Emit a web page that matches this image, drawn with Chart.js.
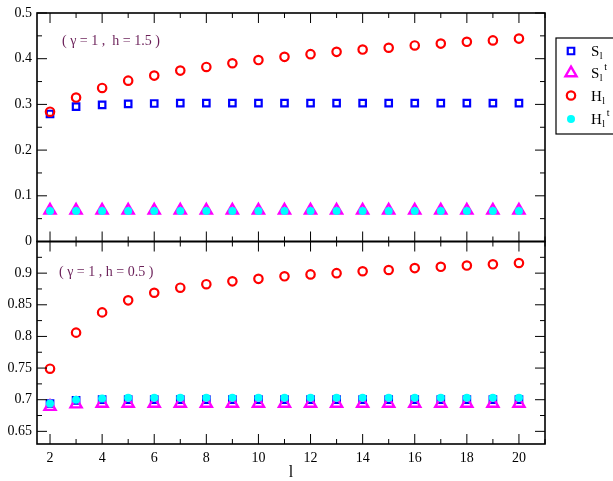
<!DOCTYPE html>
<html>
<head>
<meta charset="utf-8">
<script src="https://cdn.jsdelivr.net/npm/chart.js@4.4.0/dist/chart.umd.min.js"></script>
<style>
  html, body { margin: 0; padding: 0; background: #fff; }
  #wrap { position: relative; width: 613px; height: 481px; overflow: hidden; }
  canvas { position: absolute; left: 0; }
  #topChart { top: 0; }
  #bottomChart { top: 232px; }
</style>
</head>
<body>
<div id="wrap">
  <canvas id="topChart" width="613" height="255"></canvas>
  <canvas id="bottomChart" width="613" height="249"></canvas>
</div>
<script>
/* --------------- Data --------------------- */
const lengths = [2, 3, 4, 5, 6, 7, 8, 9, 10, 11, 12, 13, 14, 15, 16, 17, 18, 19, 20];

// upper panel (gamma = 1, h = 1.5)
const topS  = [0.279, 0.295, 0.299, 0.301, 0.302, 0.303, 0.303, 0.303, 0.303, 0.303, 0.303, 0.303, 0.303, 0.303, 0.303, 0.303, 0.303, 0.303, 0.303];
const topSt = [0.068, 0.068, 0.068, 0.068, 0.068, 0.068, 0.068, 0.068, 0.068, 0.068, 0.068, 0.068, 0.068, 0.068, 0.068, 0.068, 0.068, 0.068, 0.068];
const topH  = [0.284, 0.315, 0.336, 0.352, 0.363, 0.374, 0.382, 0.390, 0.397, 0.404, 0.410, 0.415, 0.420, 0.424, 0.429, 0.433, 0.437, 0.440, 0.444];
const topHt = [0.067, 0.067, 0.067, 0.067, 0.067, 0.067, 0.067, 0.067, 0.067, 0.067, 0.067, 0.067, 0.067, 0.067, 0.067, 0.067, 0.067, 0.067, 0.067];

// lower panel (gamma = 1, h = 0.5)
const botS  = [0.694, 0.699, 0.700, 0.700, 0.700, 0.700, 0.700, 0.700, 0.700, 0.700, 0.700, 0.700, 0.700, 0.700, 0.700, 0.700, 0.700, 0.700, 0.700];
const botSt = [0.689, 0.693, 0.694, 0.694, 0.694, 0.694, 0.694, 0.694, 0.694, 0.694, 0.694, 0.694, 0.694, 0.694, 0.694, 0.694, 0.694, 0.694, 0.694];
const botH  = [0.749, 0.806, 0.838, 0.857, 0.869, 0.877, 0.8825, 0.887, 0.891, 0.895, 0.898, 0.900, 0.903, 0.905, 0.908, 0.910, 0.912, 0.914, 0.916];
const botHt = [0.694, 0.700, 0.702, 0.703, 0.703, 0.703, 0.703, 0.703, 0.703, 0.703, 0.703, 0.703, 0.703, 0.703, 0.703, 0.703, 0.703, 0.703, 0.703];

/* --------------- Ticks --------------------- */
const xTickLabels = [2, 4, 6, 8, 10, 12, 14, 16, 18, 20];
const xMinorTicks = [2, 3, 4, 5, 6, 7, 8, 9, 10, 11, 12, 13, 14, 15, 16, 17, 18, 19, 20, 21];
const topYTickLabels = [0, 0.1, 0.2, 0.3, 0.4, 0.5];
const topYMinorTicks = [0, 0.05, 0.1, 0.15, 0.2, 0.25, 0.3, 0.35, 0.4, 0.45, 0.5];
const botYTickLabels = [0.65, 0.7, 0.75, 0.8, 0.85, 0.9];
const botYMajorTicks = [0.65, 0.7, 0.75, 0.8, 0.85, 0.9, 0.95];
const botYMinorTicks = [0.65, 0.675, 0.7, 0.725, 0.75, 0.775, 0.8, 0.825, 0.85, 0.875, 0.9, 0.925, 0.95];

/* --------------- Series look --------------------- */
const seriesStyle = [
  { name: "S", sup: "",  pointStyle: "rect",     radius: 4.6, borderColor: "#0000ff", backgroundColor: "rgba(0,0,0,0)", borderWidth: 2.2, order: 4 },
  { name: "S", sup: "t", pointStyle: "triangle", radius: 6.4, borderColor: "#ff00ff", backgroundColor: "rgba(0,0,0,0)", borderWidth: 2.4, order: 3 },
  { name: "H", sup: "",  pointStyle: "circle",   radius: 4.2, borderColor: "#ff0000", backgroundColor: "rgba(0,0,0,0)", borderWidth: 2.2, order: 2 },
  { name: "H", sup: "t", pointStyle: "circle",   radius: 4,   borderColor: "#00ffff", backgroundColor: "#00ffff",       borderWidth: 0,   order: 1 },
];

const SERIF = "'Liberation Serif', 'DejaVu Serif', serif";
const NOTE_COLOR = "#6a1f58";

const makeDatasets = (series) => series.map((vals, k) => {
  const st = seriesStyle[k];
  return {
    label: st.name + "l" + st.sup,
    data: vals.map((v, i) => ({ x: lengths[i], y: v })),
    pointStyle: st.pointStyle,
    pointRadius: st.radius,
    pointBorderWidth: st.borderWidth,
    pointBorderColor: st.borderColor,
    pointBackgroundColor: st.backgroundColor,
    showLine: false,
    order: st.order,
  };
});

/* --------------- Frame, inward ticks, note, legend --------------------- */
const makeFrame = (cfg) => ({
  id: "frame",
  afterDraw(chart) {
    const { ctx, chartArea: a } = chart;
    const xs = chart.scales.x, ys = chart.scales.y;
    const near = (arr, v) => arr.some((m) => Math.abs(m - v) < 1e-9);
    ctx.save();
    ctx.strokeStyle = "#000";
    ctx.lineWidth = 1;
    ctx.beginPath();
    for (const v of xMinorTicks) {
      const px = xs.getPixelForValue(v);
      if (px > a.right + 0.5) continue;
      const len = near(xTickLabels, v) ? 10 : 5;
      ctx.moveTo(px, a.bottom); ctx.lineTo(px, a.bottom - len);
      ctx.moveTo(px, a.top); ctx.lineTo(px, a.top + len);
    }
    for (const v of cfg.yMinor) {
      const py = ys.getPixelForValue(v);
      const len = near(cfg.yMajor, v) ? 10 : 5;
      ctx.moveTo(a.left, py); ctx.lineTo(a.left + len, py);
      ctx.moveTo(a.right, py); ctx.lineTo(a.right - len, py);
    }
    ctx.stroke();
    ctx.lineWidth = 1.6;
    ctx.strokeRect(a.left, a.top, a.width, a.height);

    // panel note
    ctx.fillStyle = NOTE_COLOR;
    ctx.font = "14px " + SERIF;
    ctx.textBaseline = "middle";
    ctx.textAlign = "left";
    ctx.fillText(cfg.note, a.left + cfg.noteDx, a.top + cfg.noteDy);

    if (cfg.legend) {
      const bx = a.right + 11, by = 38, bh = 96;
      ctx.lineWidth = 1.2;
      ctx.strokeStyle = "#000";
      ctx.strokeRect(bx, by, 80, bh);
      const rows = [13, 35, 57.5, 81];
      seriesStyle.forEach((st, k) => {
        const my = by + rows[k];
        ctx.fillStyle = st.backgroundColor;
        ctx.strokeStyle = st.borderColor;
        ctx.lineWidth = st.borderWidth;
        Chart.helpers.drawPoint(ctx, { pointStyle: st.pointStyle, radius: st.radius, borderWidth: st.borderWidth, rotation: 0 }, bx + 15, my);
        const tx = bx + 35, base = my + 5;
        ctx.fillStyle = "#000";
        ctx.textBaseline = "alphabetic";
        ctx.font = "15px " + SERIF;
        ctx.fillText(st.name, tx, base);
        const w = ctx.measureText(st.name).width;
        ctx.font = "10px " + SERIF;
        ctx.fillText("l", tx + w + 0.5, base + 3);
        if (st.sup) ctx.fillText(st.sup, tx + w + 5, base - 8);
      });
    }
    ctx.restore();
  },
});

const yScale = (min, max, labels) => ({
  type: "linear",
  min: min,
  max: max,
  grid: { display: false, drawTicks: false },
  border: { display: false },
  afterBuildTicks: (s) => { s.ticks = labels.map((v) => ({ value: v })); },
  ticks: {
    padding: 5,
    color: "#000",
    font: { family: SERIF, size: 14 },
    callback: (v) => String(+Number(v).toFixed(3)),
  },
  afterFit: (s) => { s.width = 37; s.paddingTop = 0; s.paddingBottom = 0; },
});

/* --------------- Upper chart --------------------- */
new Chart(document.getElementById("topChart"), {
  type: "scatter",
  data: { datasets: makeDatasets([topS, topSt, topH, topHt]) },
  options: {
    responsive: false,
    animation: false,
    events: [],
    layout: { padding: { left: 0, right: 68, top: 13, bottom: 13.5 } },
    scales: {
      x: { type: "linear", min: 1.5, max: 21, display: false },
      y: yScale(0, 0.5, topYTickLabels),
    },
    plugins: { legend: { display: false }, tooltip: { enabled: false } },
  },
  plugins: [makeFrame({ yMajor: topYTickLabels, yMinor: topYMinorTicks, note: "( γ = 1 ,  h = 1.5 )", noteDx: 25, noteDy: 28, legend: true })],
});

/* --------------- Lower chart --------------------- */
new Chart(document.getElementById("bottomChart"), {
  type: "scatter",
  data: { datasets: makeDatasets([botS, botSt, botH, botHt]) },
  options: {
    responsive: false,
    animation: false,
    events: [],
    layout: { padding: { left: 0, right: 68, top: 9.5, bottom: 0 } },
    scales: {
      x: {
        type: "linear",
        min: 1.5,
        max: 21,
        grid: { display: false, drawTicks: false },
        border: { display: false },
        afterBuildTicks: (s) => { s.ticks = xTickLabels.map((v) => ({ value: v })); },
        ticks: { padding: 6, color: "#000", maxRotation: 0, font: { family: SERIF, size: 14 } },
        title: { display: true, text: "l", color: "#000", font: { family: SERIF, size: 16 }, padding: { top: 0, bottom: -1 } },
        afterFit: (s) => { s.height = 37; s.paddingLeft = 0; s.paddingRight = 0; },
      },
      y: yScale(0.63, 0.95, botYTickLabels),
    },
    plugins: { legend: { display: false }, tooltip: { enabled: false } },
  },
  plugins: [makeFrame({ yMajor: botYMajorTicks, yMinor: botYMinorTicks, note: "( γ = 1 , h = 0.5 )", noteDx: 22, noteDy: 31, legend: false })],
});
</script>
</body>
</html>
